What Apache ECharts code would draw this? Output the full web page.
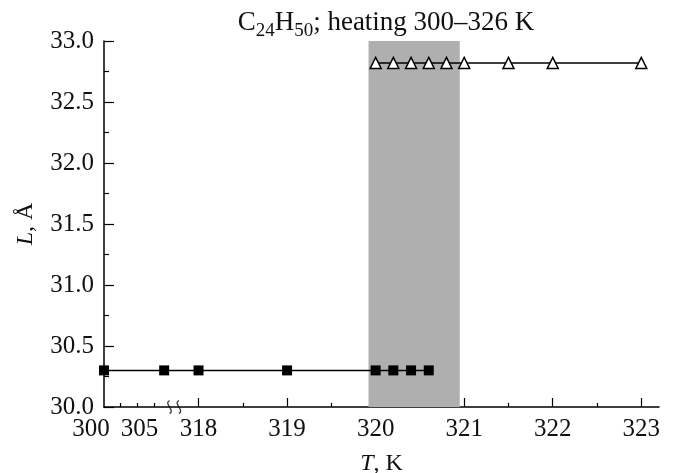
<!DOCTYPE html>
<html>
<head>
<meta charset="utf-8">
<script src="https://cdn.jsdelivr.net/npm/echarts@6/dist/echarts.min.js"></script>
<style>
  html, body { margin: 0; padding: 0; background: #fff; }
  #chart { width: 673px; height: 473px; }
</style>
</head>
<body>
<div id="chart"></div>
<script>
// phase below the transition (filled squares)
const squareT = [300, 309, 318, 319, 320, 320.2, 320.4, 320.6]
const squareL = [30.3, 30.3, 30.3, 30.3, 30.3, 30.3, 30.3, 30.3]
// phase above the transition (open triangles)
const triangleT = [320, 320.2, 320.4, 320.6, 320.8, 321, 321.5, 322, 323]
const triangleL = [32.82, 32.82, 32.82, 32.82, 32.82, 32.82, 32.82, 32.82, 32.82]
// shaded transition range
const bandT = [319.92, 320.95]
// axis ticks
const labelT = [300, 305, 318, 319, 320, 321, 322, 323]
const majorTickT = [318, 319, 320, 321, 322, 323]
const minorTickT = [302.5, 305, 307.5, 318.5, 319.5, 320.5, 321.5, 322.5]
const breakT = 310.5

// broken axis: 300..311 K is squeezed in front of 318 K
const SQUEEZE = 0.0755
function toAxis(t) {
  return t >= 312 ? t : 317.31 + (t - 305) * SQUEEZE
}
function fromAxis(v) {
  return v >= 317.9 ? v : 305 + (v - 317.31) / SQUEEZE
}

const font = "'Liberation Serif', 'Times New Roman', serif"
const chart = echarts.init(document.getElementById('chart'))

const option = {
  animation: false,
  title: {
    text: '{n|C}{s|24}{n|H}{s|50}{n|; heating 300–326 K}',
    left: 381,
    textAlign: 'center',
    top: 4,
    textStyle: {
      fontWeight: 'normal',
      rich: {
        n: { fontFamily: font, fontSize: 27, fontWeight: 'normal', color: '#111', lineHeight: 29, verticalAlign: 'top' },
        s: { fontFamily: font, fontSize: 19, fontWeight: 'normal', color: '#111', lineHeight: 19, padding: [13, 0, 0, 0], verticalAlign: 'top' }
      }
    }
  },
  grid: {
    left: 104,
    right: 14,
    top: 41,
    bottom: 66,
    outerBoundsMode: 'none'
  },
  xAxis: [
    {
      type: 'value',
      position: 'bottom',
      min: toAxis(300),
      max: 323.2,
      name: '{i|T}{n|, K}',
      nameLocation: 'middle',
      nameGap: 45,
      nameTextStyle: {
        rich: {
          i: { fontFamily: font, fontSize: 24, fontStyle: 'italic', color: '#111' },
          n: { fontFamily: font, fontSize: 24, color: '#111' }
        }
      },
      axisLine: { lineStyle: { color: '#000', width: 1.5 } },
      axisTick: { inside: true, length: 9, customValues: majorTickT.map(toAxis), lineStyle: { color: '#000', width: 1.2 } },
      axisLabel: {
        customValues: labelT.map(toAxis),
        margin: 10,
        formatter: (v) => {
          const t = Math.round(fromAxis(v))
          if (t === 300) return '{l|300}'
          if (t === 305) return '{r|305}'
          return '{n|' + t + '}'
        },
        fontFamily: font,
        fontSize: 25,
        color: '#111',
        rich: {
          n: { fontFamily: font, fontSize: 25, color: '#111' },
          l: { fontFamily: font, fontSize: 25, color: '#111', padding: [0, 26, 0, 0] },
          r: { fontFamily: font, fontSize: 25, color: '#111', padding: [0, 0, 0, 4] }
        }
      },
      splitLine: { show: false }
    },
    {
      type: 'value',
      position: 'bottom',
      min: toAxis(300),
      max: 323.2,
      axisLine: { show: false },
      axisTick: { inside: true, length: 4, customValues: minorTickT.map(toAxis), lineStyle: { color: '#000', width: 1.2 } },
      axisLabel: { show: false },
      splitLine: { show: false }
    }
  ],
  yAxis: {
    type: 'value',
    min: 30,
    max: 33,
    interval: 0.5,
    name: '{i|L}{n|, Å}',
    nameLocation: 'middle',
    nameGap: 66,
    nameTextStyle: {
      rich: {
        i: { fontFamily: font, fontSize: 24, fontStyle: 'italic', color: '#111' },
        n: { fontFamily: font, fontSize: 24, color: '#111' }
      }
    },
    axisLine: { show: true, lineStyle: { color: '#000', width: 1.5 } },
    axisTick: { show: true, inside: true, length: 10, lineStyle: { color: '#000', width: 1.2 } },
    minorTick: { show: true, splitNumber: 2, length: 5, lineStyle: { color: '#000', width: 1.2 } },
    axisLabel: {
      margin: 10,
      formatter: (v) => '{n|' + v.toFixed(1) + '}',
      fontFamily: font,
      fontSize: 25,
      color: '#111',
      rich: {
        n: { fontFamily: font, fontSize: 25, color: '#111' }
      }
    },
    splitLine: { show: false }
  },
  series: [
    {
      type: 'line',
      data: [],
      z: 1,
      silent: true,
      markArea: {
        silent: true,
        itemStyle: { color: '#afafaf', opacity: 1 },
        data: [[{ xAxis: toAxis(bandT[0]) }, { xAxis: toAxis(bandT[1]) }]]
      }
    },
    {
      type: 'line',
      z: 3,
      data: squareT.map((t, i) => [toAxis(t), squareL[i]]),
      symbol: 'rect',
      symbolSize: 10,
      showAllSymbol: true,
      clip: false,
      lineStyle: { color: '#000', width: 1.5 },
      itemStyle: { color: '#000' }
    },
    {
      type: 'line',
      z: 3,
      data: triangleT.map((t, i) => [toAxis(t), triangleL[i]]),
      symbol: 'triangle',
      symbolSize: 11,
      showAllSymbol: true,
      lineStyle: { color: '#000', width: 1.5 },
      itemStyle: { color: '#fff', borderColor: '#000', borderWidth: 1.5 }
    },
    {
      // axis break mark
      type: 'scatter',
      z: 4,
      silent: true,
      clip: false,
      data: [[toAxis(breakT), 30]],
      symbol: 'path://M4 0 C0 3 8 9 4 12 M10 0 C6 3 14 9 10 12',
      symbolSize: [13, 13],
      itemStyle: { color: 'none', borderColor: '#000', borderWidth: 1.3 }
    }
  ]
}

chart.setOption(option)
</script>
</body>
</html>
